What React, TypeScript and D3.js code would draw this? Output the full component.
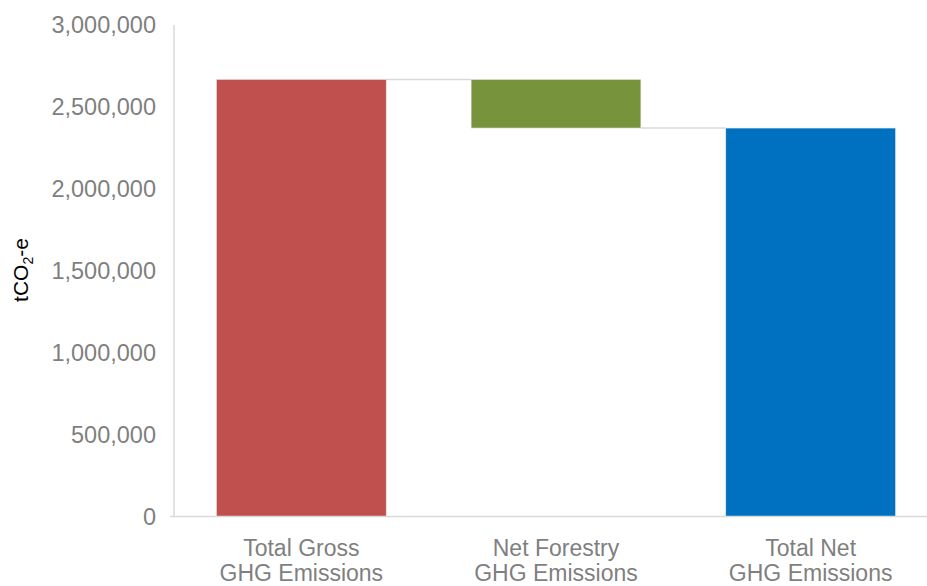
import React from "react";
import * as d3 from "d3";

const categories: string[][] = [
  ["Total Gross", "GHG Emissions"],
  ["Net Forestry", "GHG Emissions"],
  ["Total Net", "GHG Emissions"],
];
const keys = ["gross", "forestry", "net"];
const changes = [2668000, -297000, 2371000];
const kinds = ["total", "delta", "total"];
const colors = ["#C0504D", "#77933C", "#0070C0"];
const yTicks = [0, 500000, 1000000, 1500000, 2000000, 2500000, 3000000];

const W = 927;
const H = 586;

export default function App() {
  const x = d3
    .scaleBand<string>()
    .domain(keys)
    .range([174, 938])
    .paddingInner(1 / 3)
    .paddingOuter(1 / 6);
  const y = d3.scaleLinear().domain([0, 3000000]).range([516.5, 25]);
  const fmt = d3.format(",");

  let running = 0;
  const segs = keys.map((k, i) => {
    let lo: number, hi: number;
    if (kinds[i] === "total") {
      running = changes[i];
      lo = 0;
      hi = changes[i];
    } else {
      const start = running;
      running = running + changes[i];
      lo = Math.min(start, running);
      hi = Math.max(start, running);
    }
    return { k, lo, hi, end: running, color: colors[i] };
  });

  const bw = x.bandwidth();

  return (
    <svg
      width={W}
      height={H}
      style={{ position: "absolute", left: 0, top: 0, background: "#fff" }}
      fontFamily="'Liberation Sans', Arial, sans-serif"
    >
      {segs.slice(0, -1).map((s, i) => (
        <line
          key={"c" + i}
          x1={(x(s.k) as number) + bw}
          x2={x(segs[i + 1].k) as number}
          y1={y(s.end)}
          y2={y(s.end)}
          stroke="#d9d9d9"
          strokeWidth={1.5}
        />
      ))}
      {segs.map((s) => (
        <rect
          key={s.k}
          x={x(s.k)}
          width={bw}
          y={y(s.hi)}
          height={y(s.lo) - y(s.hi)}
          fill={s.color}
          stroke="#e6e6e6"
          strokeWidth={0.6}
        />
      ))}
      <line x1={174} x2={174} y1={y(3000000)} y2={y(0)} stroke="#d9d9d9" strokeWidth={1.5} />
      <line x1={170} x2={W} y1={y(0)} y2={y(0)} stroke="#d9d9d9" strokeWidth={1.5} />
      {yTicks.map((t) => (
        <text
          key={t}
          x={156}
          y={y(t)}
          textAnchor="end"
          dominantBaseline="central"
          fontSize={23.5}
          fill="#7f7f7f"
        >
          {fmt(t)}
        </text>
      ))}
      {keys.map((k, i) => {
        const cx = (x(k) as number) + bw / 2;
        return (
          <g key={"l" + k}>
            {categories[i].map((line, j) => (
              <text
                key={j}
                x={cx}
                y={555.5 + j * 25.5}
                textAnchor="middle"
                fontSize={23}
                fill="#7f7f7f"
              >
                {line}
              </text>
            ))}
          </g>
        );
      })}
      <text
        transform={`translate(28,270) rotate(-90)`}
        textAnchor="middle"
        fontSize={21}
        fill="#000"
      >
        tCO
        <tspan fontSize={14} dy={5}>2</tspan>
        <tspan dy={-5}>-e</tspan>
      </text>
    </svg>
  );
}
